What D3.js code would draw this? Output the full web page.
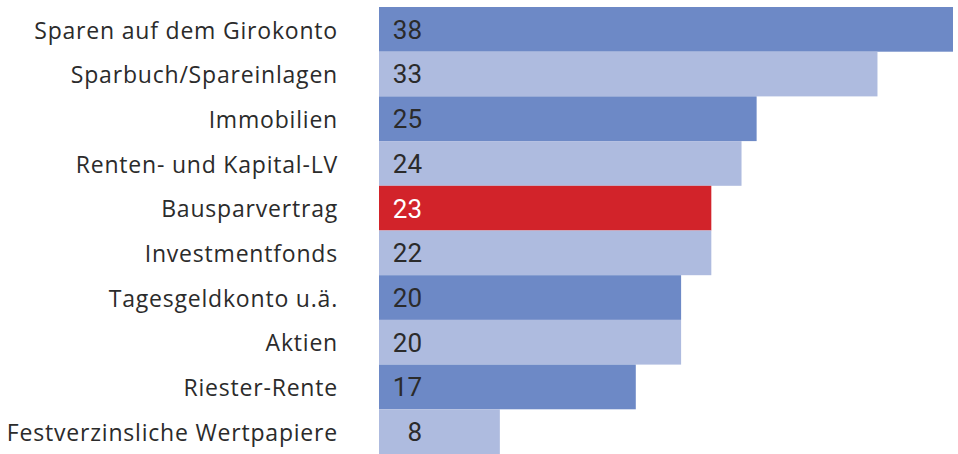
<!DOCTYPE html>
<html>
<head>
<meta charset="utf-8">
<script src="https://cdn.jsdelivr.net/npm/d3@7"></script>
<style>
  body { margin: 0; background: #fff; }
</style>
</head>
<body>
<script>
// categories top to bottom
const categories = [
  "Sparen auf dem Girokonto",
  "Sparbuch/Spareinlagen",
  "Immobilien",
  "Renten- und Kapital-LV",
  "Bausparvertrag",
  "Investmentfonds",
  "Tagesgeldkonto u.ä.",
  "Aktien",
  "Riester-Rente",
  "Festverzinsliche Wertpapiere"
];
// printed (rounded) values
const values = [38, 33, 25, 24, 23, 22, 20, 20, 17, 8];
// bar lengths as drawn in the picture (Bausparvertrag bar is as long as Investmentfonds)
const barValues = [38, 33, 25, 24, 22, 22, 20, 20, 17, 8];
const highlight = "Bausparvertrag";

const w = 958;
const h = 454;
const left = 379;

const svg = d3.select("body")
  .append("svg")
  .attr("width", w)
  .attr("height", h);

const xScale = d3.scaleLinear()
  .domain([0, 38])
  .range([left, 953]);

const yScale = d3.scaleBand()
  .domain(categories)
  .range([7, 454])
  .padding(0);

const colorOf = (d, i) => d === highlight ? "#d2232a" : (i % 2 === 0 ? "#6d89c6" : "#aebbdf");

svg.selectAll("rect")
  .data(categories)
  .enter()
  .append("rect")
  .attr("x", xScale(0))
  .attr("y", (d) => yScale(d))
  .attr("width", (d, i) => xScale(barValues[i]) - xScale(0))
  .attr("height", yScale.bandwidth())
  .attr("fill", colorOf);

// value labels
svg.selectAll("text.val")
  .data(categories)
  .enter()
  .append("text")
  .attr("class", "val")
  .attr("x", 422)
  .attr("y", (d) => yScale(d) + yScale.bandwidth() / 2)
  .attr("dy", "0.36em")
  .attr("text-anchor", "end")
  .style("font-family", "Roboto, sans-serif")
  .style("font-size", "26px")
  .attr("fill", (d) => d === highlight ? "#ffffff" : "#2b2b2b")
  .text((d, i) => values[i]);

// category labels
svg.selectAll("text.cat")
  .data(categories)
  .enter()
  .append("text")
  .attr("class", "cat")
  .attr("x", 338)
  .attr("y", (d) => yScale(d) + yScale.bandwidth() / 2)
  .attr("dy", "0.4em")
  .attr("text-anchor", "end")
  .style("font-family", "'Open Sans', sans-serif")
  .style("font-size", "23px")
  .style("letter-spacing", "0.8px")
  .attr("fill", "#2b2b2b")
  .text((d) => d);
</script>
</body>
</html>
